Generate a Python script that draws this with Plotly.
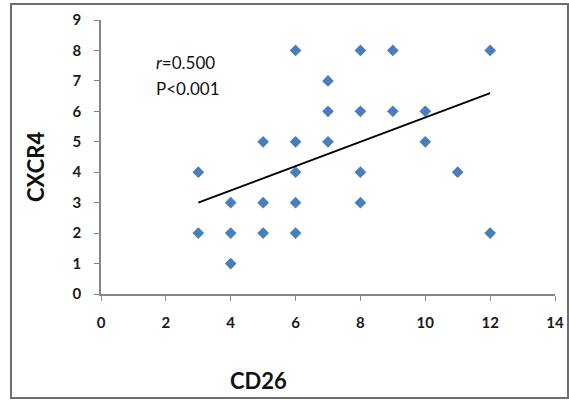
import plotly.graph_objects as go

# Data
cd26 = [3, 3, 4, 4, 4, 5, 5, 5, 6, 6, 6, 6, 6, 7, 7, 7, 8, 8, 8, 8, 9, 9, 10, 10, 11, 12, 12]
cxcr4 = [4, 2, 3, 2, 1, 5, 3, 2, 8, 5, 4, 3, 2, 7, 6, 5, 8, 6, 4, 3, 8, 6, 6, 5, 4, 8, 2]
trend_x = [3, 12]
trend_y = [3.0, 6.6]
x_ticks = [0, 2, 4, 6, 8, 10, 12, 14]
y_ticks = [0, 1, 2, 3, 4, 5, 6, 7, 8, 9]

W, H = 569, 401
L, R, T, B = 101, 14, 20, 107
FONT = "Lato, 'Open Sans', sans-serif"


def px_x(p):
    return (p - L) / (W - L - R)


def px_y(p):
    return (H - B - p) / (H - T - B)


fig = go.Figure()
fig.add_trace(go.Scatter(
    x=cd26, y=cxcr4, mode="markers",
    marker=dict(symbol="diamond", size=9, color="#4a7ebb", line=dict(width=0)),
    showlegend=False, hoverinfo="x+y"))
fig.add_trace(go.Scatter(
    x=trend_x, y=trend_y, mode="lines",
    line=dict(color="black", width=1.8), showlegend=False, hoverinfo="skip"))

axis_common = dict(
    showgrid=False, zeroline=False, showline=True, linecolor="#868686", linewidth=1.5,
    ticks="outside", ticklen=5, tickcolor="#868686", tickwidth=1, automargin=False,
    tickfont=dict(family=FONT, size=15, color="#1a1a1a", weight="bold"),
)
fig.update_xaxes(range=[0, 14], tickvals=x_ticks, ticklabelstandoff=9, **axis_common)
fig.update_yaxes(range=[0, 9], tickvals=y_ticks, ticklabelstandoff=10, **axis_common)

fig.add_annotation(xref="paper", yref="paper", x=px_x(35), y=px_y(167),
                   text="CXCR4", textangle=-90, showarrow=False,
                   font=dict(family=FONT, size=22, color="#111", weight="bold"),
                   xanchor="center", yanchor="middle")
fig.add_annotation(xref="paper", yref="paper", x=px_x(258), y=px_y(380),
                   text="CD26", showarrow=False,
                   font=dict(family=FONT, size=22, color="#111", weight="bold"),
                   xanchor="center", yanchor="middle")
fig.add_annotation(xref="paper", yref="paper", x=px_x(154), y=px_y(62),
                   text="<i>r</i>=0.500", showarrow=False, align="left",
                   font=dict(family=FONT, size=17, color="#111"),
                   xanchor="left", yanchor="middle")
fig.add_annotation(xref="paper", yref="paper", x=px_x(154), y=px_y(88),
                   text="P<0.001", showarrow=False, align="left",
                   font=dict(family=FONT, size=17, color="#111"),
                   xanchor="left", yanchor="middle")

# outer border of the chart
fig.add_shape(type="rect", xref="paper", yref="paper",
              x0=px_x(11), x1=px_x(568), y0=px_y(398), y1=px_y(4),
              line=dict(color="#6e6e6e", width=2), layer="below")

fig.update_layout(
    width=W, height=H,
    margin=dict(l=L, r=R, t=T, b=B, autoexpand=False),
    paper_bgcolor="white", plot_bgcolor="white",
    font=dict(family=FONT),
)
fig.write_html("out.html", config={"displayModeBar": False},
               post_script="document.body.style.margin='0';")
